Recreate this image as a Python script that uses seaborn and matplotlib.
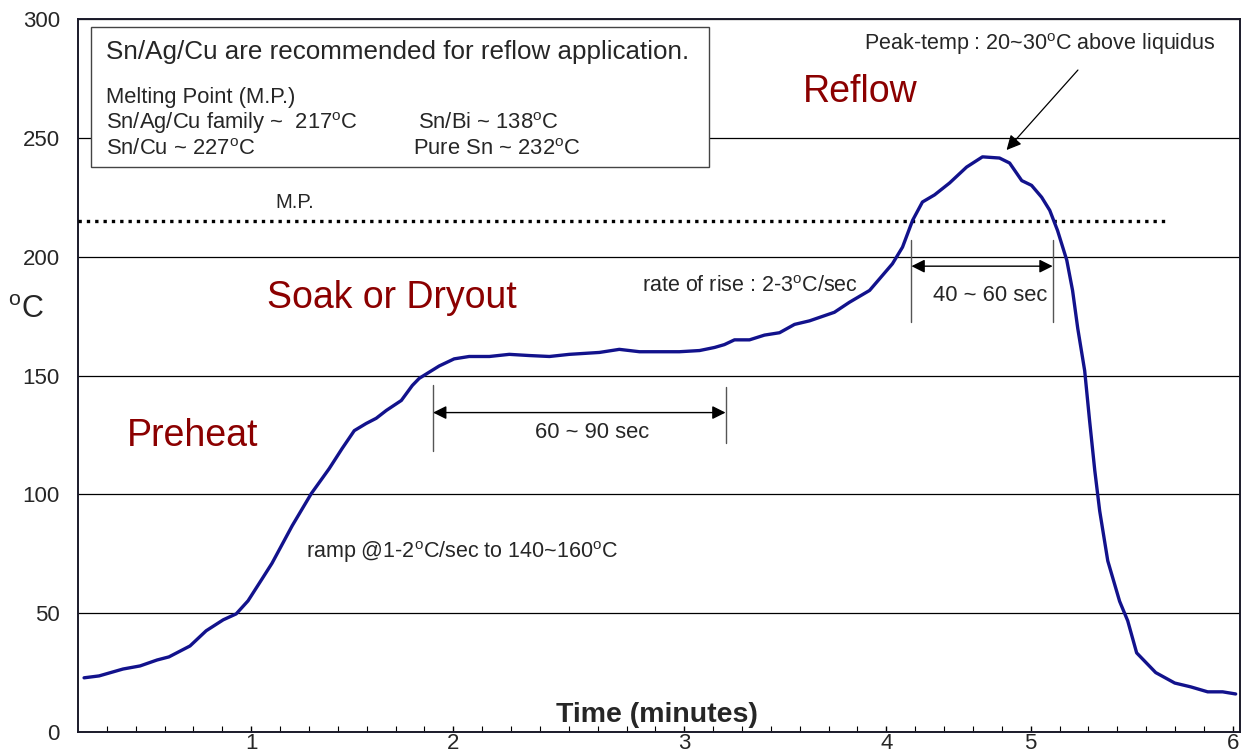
import matplotlib
matplotlib.use("Agg")
import matplotlib.pyplot as plt
from matplotlib.patches import Rectangle
import seaborn as sns
import pandas as pd

# ─── Data: reflow profile, x in axis tick steps, y in °C ─────────────────────
time_step = [0.21, 0.73, 1.56, 2.15, 2.74, 3.15, 3.88, 4.44, 5.03, 5.48,
             5.89, 6.38, 6.72, 7.42, 8.08, 8.70, 9.15, 9.57, 9.98, 10.33,
             10.68, 11.20, 11.58, 11.82, 12.51, 13.03, 13.55, 14.25, 14.94, 15.63,
             16.33, 17.02, 18.06, 18.75, 19.45, 20.83, 21.53, 22.05, 22.39, 22.74,
             23.26, 23.78, 24.30, 24.82, 25.34, 26.20, 26.72, 27.42, 28.21, 28.56,
             28.91, 29.25, 29.67, 30.19, 30.78, 31.33, 31.92, 32.27, 32.69, 33.03,
             33.38, 33.66, 33.93, 34.25, 34.45, 34.63, 34.87, 35.04, 35.22, 35.39,
             35.67, 36.08, 36.36, 36.67, 37.33, 37.99, 38.54, 39.13, 39.65, 40.10]
temp_c = [22.8, 23.6, 26.5, 27.8, 30.3, 31.6, 36.2, 42.6, 47.2, 49.7,
          55.2, 64.5, 71.0, 86.8, 100.3, 110.8, 119.3, 126.8, 129.8, 132.0,
          135.3, 139.5, 145.8, 148.8, 154.0, 157.0, 158.0, 158.0, 158.9, 158.4,
          158.0, 158.9, 159.7, 161.0, 160.0, 160.0, 160.5, 161.8, 163.0, 165.0,
          165.0, 167.0, 168.0, 171.5, 173.0, 176.6, 180.8, 185.8, 197.0, 204.0,
          215.3, 223.0, 226.0, 231.0, 237.7, 242.0, 241.5, 239.4, 232.0, 230.0,
          225.0, 219.5, 211.0, 198.5, 185.8, 169.8, 152.0, 131.0, 110.0, 93.0,
          72.0, 55.0, 46.8, 33.3, 25.0, 20.6, 19.0, 16.9, 16.9, 16.0]

minute_ticks = [6, 13, 21, 28, 33, 40]
minute_labels = ["1", "2", "3", "4", "5", "6"]
y_ticks = [0, 50, 100, 150, 200, 250, 300]
melting_point = 215

df = pd.DataFrame({"step": time_step, "temp": temp_c})

# ─── Style ────────────────────────────────────────────────────────────────────
sns.set_theme(style="white")
plt.rcParams["font.family"] = ["Liberation Sans", "DejaVu Sans"]
plt.rcParams["mathtext.default"] = "regular"

RED = "#8B0000"
CURVE = "#12128C"
GREY = "#555555"

fig = plt.figure(figsize=(12.47, 7.52), dpi=100)
ax = fig.add_axes([78 / 1247, 20 / 752, 1162 / 1247, 713 / 752])

ax.set_axisbelow(True)
ax.grid(axis="y", color="black", linewidth=0.9)

sns.lineplot(data=df, x="step", y="temp", color=CURVE, linewidth=2.4,
             estimator=None, ax=ax, zorder=4)

ax.set_xlim(0, 40.25)
ax.set_ylim(0, 300)
ax.set_xlabel("")
ax.set_ylabel("")

ax.set_xticks(minute_ticks)
ax.set_xticklabels(minute_labels)
ax.set_xticks(range(1, 41), minor=True)
ax.tick_params(axis="x", which="major", direction="in", length=4, width=1,
               labelsize=16, pad=1, bottom=True, color="black")
ax.tick_params(axis="x", which="minor", direction="in", length=4, width=0.8,
               bottom=True, color="black")
ax.set_yticks(y_ticks)
ax.tick_params(axis="y", length=0, labelsize=16, pad=13)

for sp in ax.spines.values():
    sp.set_color("#1a1a2a")
    sp.set_linewidth(1.4)

# ─── Melting point line ──────────────────────────────────────────────────────
ax.plot([0, 37.64], [melting_point, melting_point], color="black",
        linestyle=(0, (1, 1.5)), linewidth=2.4, solid_capstyle="butt",
        dash_capstyle="butt", zorder=3)
ax.text(7.52, 219, "M.P.", ha="center", va="bottom", fontsize=14.5)

# ─── Info box ────────────────────────────────────────────────────────────────
ax.add_patch(Rectangle((0.45, 237.7), 21.42, 59.0, facecolor="white",
                       edgecolor="#444444", linewidth=1.0, zorder=2))
ax.text(0.97, 286, "Sn/Ag/Cu are recommended for reflow application.",
        fontsize=18.7, va="center", zorder=5)
ax.text(0.97, 266.8, "Melting Point (M.P.)", fontsize=15.8, va="center", zorder=5)
ax.text(0.97, 256, "Sn/Ag/Cu family ~  217$^o$C", fontsize=15.8, va="center", zorder=5)
ax.text(11.79, 256, "Sn/Bi ~ 138$^o$C", fontsize=15.8, va="center", zorder=5)
ax.text(0.97, 245, "Sn/Cu ~ 227$^o$C", fontsize=15.8, va="center", zorder=5)
ax.text(11.61, 245, "Pure Sn ~ 232$^o$C", fontsize=15.8, va="center", zorder=5)

# ─── Phase labels ────────────────────────────────────────────────────────────
ax.text(1.70, 124.7, "Preheat", color=RED, fontsize=27, va="center")
ax.text(6.55, 182.5, "Soak or Dryout", color=RED, fontsize=27, va="center")
ax.text(25.1, 269.3, "Reflow", color=RED, fontsize=27, va="center")

# ─── Annotations ─────────────────────────────────────────────────────────────
ax.text(33.31, 289.5, "Peak-temp : 20~30$^o$C above liquidus", ha="center",
        va="center", fontsize=15.5)
ax.annotate("", xy=(32.1, 244), xytext=(34.7, 279.4),
            arrowprops=dict(arrowstyle="-|>", color="black", lw=0.9,
                            mutation_scale=22))
ax.text(19.55, 187.5, "rate of rise : 2-3$^o$C/sec", fontsize=15.5, va="center")
ax.text(7.90, 75.9, "ramp @1-2$^o$C/sec to 140~160$^o$C", fontsize=15.5, va="center")

# 60 ~ 90 sec span
ax.plot([12.30, 12.30], [118.4, 145.8], color=GREY, lw=1.0)
ax.plot([22.43, 22.43], [121.4, 145.0], color=GREY, lw=1.0)
ax.annotate("", xy=(12.30, 134.4), xytext=(22.43, 134.4),
            arrowprops=dict(arrowstyle="<|-|>", color="black", lw=1.0,
                            mutation_scale=20, shrinkA=0, shrinkB=0))
ax.text(17.8, 126, "60 ~ 90 sec", ha="center", va="center", fontsize=15.8)

# 40 ~ 60 sec span
ax.plot([28.87, 28.87], [172.4, 206.9], color=GREY, lw=1.0)
ax.plot([33.76, 33.76], [172.4, 206.9], color=GREY, lw=1.0)
ax.annotate("", xy=(28.87, 196), xytext=(33.76, 196),
            arrowprops=dict(arrowstyle="<|-|>", color="black", lw=1.0,
                            mutation_scale=20, shrinkA=0, shrinkB=0))
ax.text(31.58, 183.7, "40 ~ 60 sec", ha="center", va="center", fontsize=15.8)

# ─── Axis titles (drawn inside like the original) ────────────────────────────
ax.text(20.07, 7.2, "Time (minutes)", ha="center", va="center", fontsize=20.5,
        fontweight="bold", zorder=5)
fig.text(26 / 1247, 1 - 310 / 752, "$^o$C", ha="center", va="center",
         fontsize=22)

fig.savefig("out.png", dpi=100)
plt.close(fig)
